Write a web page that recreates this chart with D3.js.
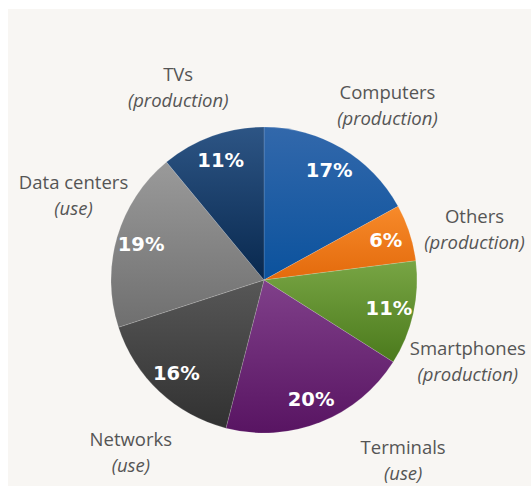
<!DOCTYPE html>
<html>
<head>
<meta charset="utf-8">
<script src="https://cdn.jsdelivr.net/npm/d3@7"></script>
<style>
  html, body { margin: 0; padding: 0; background: #ffffff; }
  svg { display: block; }
</style>
</head>
<body>
<svg id="chart" width="531" height="486"></svg>
<script>
// Share of emissions by source, clockwise from 12 o'clock
const categories = ["Computers", "Others", "Smartphones", "Terminals", "Networks", "Data centers", "TVs"];
const phases     = ["production", "production", "production", "use", "use", "use", "production"];
const shares     = [17, 6, 11, 20, 16, 19, 11];

// Slice fills: [top, bottom] of each vertical gradient
const sliceColors = [
  ["#3268ab", "#0b529d"],
  ["#f78a2a", "#e36a0c"],
  ["#78a544", "#4b7a1c"],
  ["#80408a", "#581462"],
  ["#575757", "#313131"],
  ["#9a9a9a", "#6f6f6f"],
  ["#2d5585", "#08284e"]
];

// Nudges applied to the outer category labels after radial placement
const labelNudge = [[14, 11], [6, 16], [-6, 35], [60, -19], [14, 16], [16, -25], [-13, 10]];

const W = 531, H = 486;
const cx = 264, cy = 280, R = 153;

const svg = d3.select("#chart");

// Panel background
svg.append("rect").attr("x", 8).attr("y", 9).attr("width", W - 8).attr("height", H - 9)
  .attr("fill", "#f8f6f3");

const defs = svg.append("defs");
sliceColors.forEach((c, i) => {
  const g = defs.append("linearGradient").attr("id", "grad" + i)
    .attr("x1", 0).attr("y1", 0).attr("x2", 0).attr("y2", 1);
  g.append("stop").attr("offset", "0%").attr("stop-color", c[0]);
  g.append("stop").attr("offset", "100%").attr("stop-color", c[1]);
});

const data = categories.map((c, i) => ({ name: c, phase: phases[i], value: shares[i], i }));

const pie = d3.pie().value(d => d.value).sort(null);
const arcs = pie(data);

const arc = d3.arc().innerRadius(0).outerRadius(R);
const labelArc = d3.arc().innerRadius(128).outerRadius(128);
const outerArc = d3.arc().innerRadius(215).outerRadius(215);

const g = svg.append("g").attr("transform", `translate(${cx},${cy})`);

g.selectAll("path.slice").data(arcs).join("path")
  .attr("class", "slice")
  .attr("d", arc)
  .attr("fill", d => `url(#grad${d.data.i})`)
  .attr("stroke", "rgba(255,255,255,0.25)")
  .attr("stroke-width", 0.6);

// Percent labels inside slices
g.selectAll("text.pct").data(arcs).join("text")
  .attr("class", "pct")
  .attr("x", d => labelArc.centroid(d)[0])
  .attr("y", d => labelArc.centroid(d)[1])
  .attr("text-anchor", "middle")
  .attr("dy", "0.36em")
  .attr("font-family", "'DejaVu Sans', Verdana, sans-serif")
  .attr("font-weight", "bold")
  .attr("font-size", 19.5)
  .attr("fill", "#ffffff")
  .text(d => d.data.value + "%");

// Category labels outside the pie
const outer = g.selectAll("g.lbl").data(arcs).join("g")
  .attr("class", "lbl")
  .attr("transform", d => {
    const p = outerArc.centroid(d);
    const n = labelNudge[d.data.i];
    return `translate(${p[0] + n[0]},${p[1] + n[1]})`;
  });

outer.append("text")
  .attr("y", -13)
  .attr("dy", "0.35em")
  .attr("text-anchor", "middle")
  .attr("font-family", "'Open Sans', sans-serif")
  .attr("font-size", 18.5)
  .attr("fill", "#555555")
  .text(d => d.data.name);

outer.append("text")
  .attr("y", 13)
  .attr("dy", "0.35em")
  .attr("text-anchor", "middle")
  .attr("font-family", "'Open Sans', sans-serif")
  .attr("font-style", "italic")
  .attr("font-size", 18.5)
  .attr("fill", "#555555")
  .text(d => "(" + d.data.phase + ")");
</script>
</body>
</html>
